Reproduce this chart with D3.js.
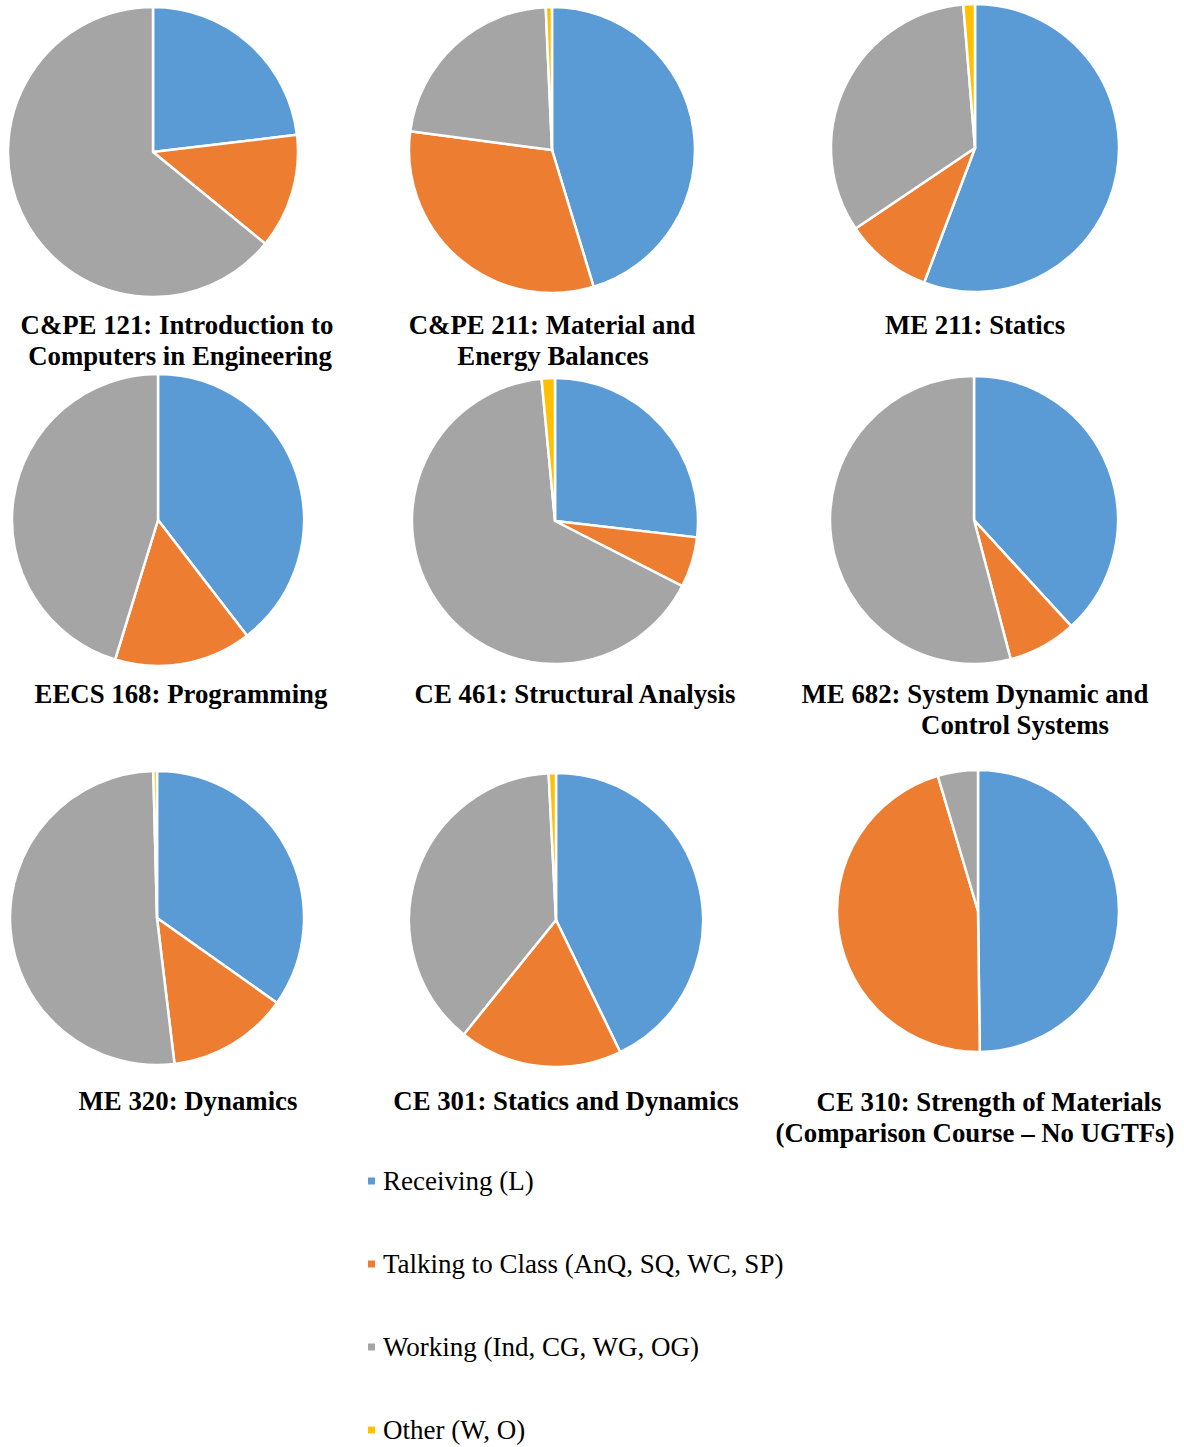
<!DOCTYPE html>
<html>
<head>
<meta charset="utf-8">
<script src="https://cdn.jsdelivr.net/npm/d3@7"></script>
<style>
  body { margin: 0; background: #fff; }
  .title { font-family: "Liberation Serif", "Times New Roman", serif; font-weight: bold; font-size: 26.8px; fill: #000; }
  .legend text { font-family: "Liberation Serif", "Times New Roman", serif; font-size: 27px; fill: #000; }
</style>
</head>
<body>
<div id="chart"></div>
<script>
// categories (legend order = slice order, clockwise from 12 o'clock)
var categories = ["Receiving (L)", "Talking to Class (AnQ, SQ, WC, SP)", "Working (Ind, CG, WG, OG)", "Other (W, O)"];

// course titles (one entry per line)
var courses = [
  ["C&PE 121: Introduction to", "Computers in Engineering"],
  ["C&PE 211: Material and", "Energy Balances"],
  ["ME 211: Statics"],
  ["EECS 168: Programming"],
  ["CE 461: Structural Analysis"],
  ["ME 682: System Dynamic and", "Control Systems"],
  ["ME 320: Dynamics"],
  ["CE 301: Statics and Dynamics"],
  ["CE 310: Strength of Materials", "(Comparison Course \u2013 No UGTFs)"]
];

// share of class time (%)
var receiving = [23.1, 45.3, 55.7, 39.6, 26.8, 38.2, 34.8, 42.8, 49.8];
var talking   = [12.8, 31.8,  9.8, 15.2,  5.7,  7.7, 13.3, 18.0, 45.6];
var working   = [64.1, 22.2, 33.1, 45.3, 65.9, 54.1, 51.5, 38.4,  4.6];
var other     = [ 0.0,  0.7,  1.3,  0.0,  1.5,  0.0,  0.4,  0.8,  0.0];

var colors = ["#5B9BD5", "#ED7D31", "#A5A5A5", "#FFC000"];

// layout: pie centres / radii and title placement
var layout = [
  {cx: 153, cy: 152, r: 145, tx: [177, 180], ty: 334},
  {cx: 552, cy: 150, r: 143, tx: [552, 553], ty: 334},
  {cx: 975, cy: 148, r: 144, tx: [975], ty: 334},
  {cx: 158, cy: 520, r: 146, tx: [181], ty: 703},
  {cx: 555, cy: 521, r: 143, tx: [575], ty: 703},
  {cx: 974, cy: 520, r: 144, tx: [975, 1015], ty: 703},
  {cx: 157, cy: 918, r: 147, tx: [188], ty: 1110},
  {cx: 556, cy: 920, r: 147, tx: [566], ty: 1110},
  {cx: 978, cy: 911, r: 141, tx: [989, 975], ty: 1111}
];
var lineGap = 31;

var width = 1184, height = 1447;

const mysvg = d3.select("#chart")
  .append("svg")
  .attr("width", width)
  .attr("height", height);

var color = d3.scaleOrdinal().domain(categories).range(colors);

var pie = d3.pie()
  .sort(null)
  .value(d => d.value);

courses.forEach(function(lines, i) {
  var L = layout[i];
  var values = [receiving[i], talking[i], working[i], other[i]].map(function(v, k) {
    return {cat: categories[k], value: v};
  });

  var arc = d3.arc().innerRadius(0).outerRadius(L.r);

  var g = mysvg.append("g")
    .attr("transform", `translate(${L.cx}, ${L.cy})`);

  g.selectAll("path")
    .data(pie(values).filter(d => d.data.value > 0))
    .join("path")
      .attr("d", arc)
      .attr("fill", d => color(d.data.cat))
      .attr("stroke", "#fff")
      .attr("stroke-width", 2.5)
      .attr("stroke-linejoin", "round");

  mysvg.selectAll(null)
    .data(lines)
    .join("text")
      .attr("class", "title")
      .attr("text-anchor", "middle")
      .attr("x", (d, j) => L.tx[j])
      .attr("y", (d, j) => L.ty + j * lineGap)
      .text(d => d);
});

// legend
var legend = mysvg.append("g").attr("class", "legend");
var ly = d3.scalePoint().domain(categories).range([1181, 1430]);

legend.selectAll("rect")
  .data(categories)
  .join("rect")
    .attr("x", 368)
    .attr("y", d => ly(d) - 3.5)
    .attr("width", 7)
    .attr("height", 7)
    .attr("fill", d => color(d));

legend.selectAll("text")
  .data(categories)
  .join("text")
    .attr("x", 383)
    .attr("y", d => ly(d) + 9)
    .text(d => d);
</script>
</body>
</html>
